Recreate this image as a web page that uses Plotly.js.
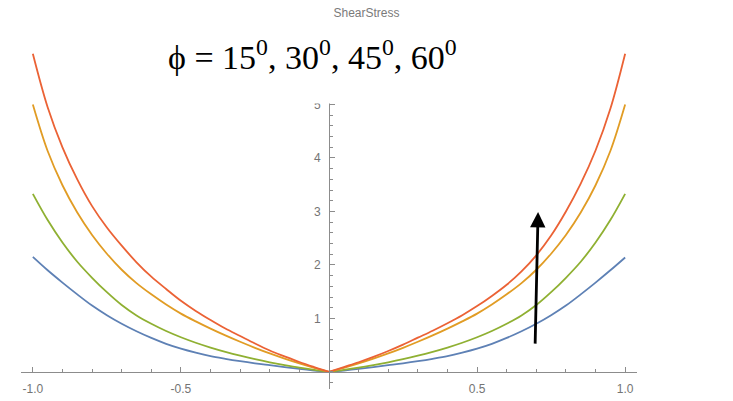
<!DOCTYPE html>
<html>
<head>
<meta charset="utf-8">
<script src="https://cdn.plot.ly/plotly-3.0.1.min.js"></script>
<style>
  html, body { margin: 0; padding: 0; background: #ffffff; }
  #chart { width: 733px; height: 401px; }
</style>
</head>
<body>
<div id="chart"></div>
<script>
// Shear stress against distance for four friction angles
const distance = [-1.0, -0.95, -0.9, -0.85, -0.8, -0.75, -0.7, -0.65, -0.6, -0.55, -0.5,
                  -0.45, -0.4, -0.35, -0.3, -0.25, -0.2, -0.15, -0.1, -0.05, 0,
                  0.05, 0.1, 0.15, 0.2, 0.25, 0.3, 0.35, 0.4, 0.45, 0.5,
                  0.55, 0.6, 0.65, 0.7, 0.75, 0.8, 0.85, 0.9, 0.95, 1.0];

const stressPhi15 = [2.15, 1.9, 1.67, 1.45, 1.24, 1.06, 0.9, 0.76, 0.635, 0.525, 0.435,
                     0.36, 0.295, 0.245, 0.2, 0.16, 0.125, 0.09, 0.055, 0.025, 0,
                     0.025, 0.055, 0.09, 0.125, 0.16, 0.2, 0.245, 0.295, 0.36, 0.435,
                     0.525, 0.635, 0.76, 0.9, 1.06, 1.24, 1.45, 1.67, 1.9, 2.14];
const stressPhi30 = [3.33, 2.84, 2.42, 2.06, 1.76, 1.49, 1.25, 1.055, 0.9, 0.765, 0.648,
                     0.545, 0.455, 0.375, 0.303, 0.238, 0.18, 0.128, 0.08, 0.038, 0,
                     0.038, 0.08, 0.128, 0.18, 0.238, 0.303, 0.375, 0.455, 0.545, 0.648,
                     0.765, 0.9, 1.055, 1.25, 1.49, 1.76, 2.06, 2.42, 2.84, 3.33];
const stressPhi45 = [5.0, 4.13, 3.49, 2.98, 2.56, 2.21, 1.91, 1.66, 1.45, 1.26, 1.09,
                     0.945, 0.81, 0.683, 0.563, 0.45, 0.345, 0.248, 0.158, 0.075, 0,
                     0.075, 0.158, 0.248, 0.345, 0.45, 0.563, 0.683, 0.81, 0.945, 1.09,
                     1.26, 1.45, 1.66, 1.91, 2.21, 2.56, 2.98, 3.49, 4.13, 5.0];
const stressPhi60 = [5.95, 4.95, 4.2, 3.6, 3.1, 2.7, 2.36, 2.05, 1.78, 1.55, 1.33,
                     1.14, 0.97, 0.81, 0.67, 0.53, 0.4, 0.29, 0.185, 0.09, 0,
                     0.09, 0.18, 0.28, 0.39, 0.51, 0.64, 0.77, 0.91, 1.06, 1.23,
                     1.42, 1.63, 1.88, 2.18, 2.55, 3.0, 3.52, 4.14, 4.92, 5.95];

const seriesNames = ['φ = 15°', 'φ = 30°', 'φ = 45°', 'φ = 60°'];
const seriesColors = ['#5E81B5', '#8FB032', '#E19C24', '#EB6235'];

const xTickVals = [-1.0, -0.5, 0.5, 1.0];
const xTickText = ['-1.0', '-0.5', '0.5', '1.0'];
const yTickVals = [1, 2, 3, 4, 5];
const yTickText = ['1', '2', '3', '4', '5'];

const xRange = [-1.04, 1.04];
const yRange = [-0.32, 6.3];

// The curves have a corner at the origin, so each side is smoothed on its own.
const mid = distance.indexOf(0);
const allSeries = [stressPhi15, stressPhi30, stressPhi45, stressPhi60];
const traces = [];
allSeries.forEach((ys, i) => {
  [[0, mid + 1], [mid, distance.length]].forEach(([a, b]) => {
    traces.push({
      x: distance.slice(a, b),
      y: ys.slice(a, b),
      type: 'scatter',
      mode: 'lines',
      name: seriesNames[i],
      line: { color: seriesColors[i], width: 1.8, shape: 'spline', smoothing: 1 },
      hoverinfo: 'x+y+name'
    });
  });
});

const axisGray = '#8c8c8c';
const labelFont = { family: 'Liberation Sans, Arial, sans-serif', size: 12, color: '#747474' };

const layout = {
  width: 733,
  height: 401,
  margin: { l: 21, r: 96, t: 35, b: 12 },
  paper_bgcolor: '#ffffff',
  plot_bgcolor: '#ffffff',
  showlegend: false,
  title: {
    text: 'ShearStress',
    font: { family: 'Liberation Sans, Arial, sans-serif', size: 12, color: '#7a7a7a' },
    xref: 'container', x: 0.5, xanchor: 'center',
    yref: 'container', y: 0.968, yanchor: 'middle'
  },
  xaxis: {
    range: xRange,
    anchor: 'free',
    position: (0 - yRange[0]) / (yRange[1] - yRange[0]),
    showline: true, linecolor: axisGray, linewidth: 1,
    showgrid: false, zeroline: false,
    ticks: 'inside', ticklen: 5, tickwidth: 1, tickcolor: axisGray,
    tickmode: 'array', tickvals: xTickVals, ticktext: xTickText,
    tickfont: labelFont, ticklabelstandoff: 6,
    minor: { dtick: 0.1, tick0: 0, ticks: 'inside', ticklen: 3, tickcolor: axisGray, showgrid: false }
  },
  yaxis: {
    range: yRange,
    anchor: 'free',
    position: (0 - xRange[0]) / (xRange[1] - xRange[0]),
    showline: true, linecolor: axisGray, linewidth: 1,
    showgrid: false, zeroline: false,
    ticks: 'inside', ticklen: 5, tickwidth: 1, tickcolor: axisGray,
    tickmode: 'array', tickvals: yTickVals, ticktext: yTickText,
    tickfont: labelFont, ticklabelstandoff: 6,
    minor: { dtick: 0.2, tick0: 0, ticks: 'inside', ticklen: 3, tickcolor: axisGray, showgrid: false }
  },
  shapes: [
    // white panel behind the angle caption
    { type: 'rect', xref: 'x', yref: 'y', x0: -0.62, x1: 0.52, y0: 5.02, y1: 6.3,
      fillcolor: '#ffffff', line: { width: 0 }, layer: 'above' }
  ],
  annotations: [
    {
      text: 'ϕ = 15<sup>0</sup>, 30<sup>0</sup>, 45<sup>0</sup>, 60<sup>0</sup>',
      xref: 'x', yref: 'y', x: -0.055, y: 5.92,
      xanchor: 'center', yanchor: 'middle', showarrow: false,
      font: { family: 'Liberation Serif, DejaVu Serif, serif', size: 34, color: '#000000' }
    },
    {
      text: 'Distance',
      xref: 'x', yref: 'y', x: 1.093, y: 0,
      xanchor: 'left', yanchor: 'middle', showarrow: false,
      font: { family: 'Liberation Sans, Arial, sans-serif', size: 13, color: '#747474' }
    },
    {
      text: '',
      xref: 'x', yref: 'y', x: 0.706, y: 2.99,
      axref: 'x', ayref: 'y', ax: 0.696, ay: 0.5,
      showarrow: true, arrowhead: 2, arrowsize: 1.1, arrowwidth: 2.8,
      arrowcolor: '#000000', standoff: 0
    }
  ]
};

Plotly.newPlot('chart', traces, layout, { displayModeBar: false, staticPlot: true });
</script>
</body>
</html>
